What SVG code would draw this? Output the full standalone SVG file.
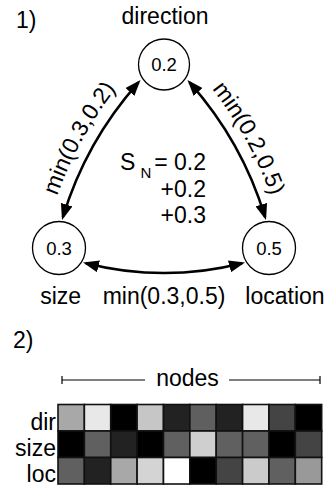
<svg xmlns="http://www.w3.org/2000/svg" width="331" height="487" viewBox="0 0 331 487">
<style>
text{font-family:"Liberation Sans",Arial,sans-serif;fill:#000}
.lbl{font-size:23px}
.val{font-size:18.5px;text-anchor:middle}
.node circle{fill:#fff;stroke:#000;stroke-width:1.3}
.arc{fill:none;stroke:#000;stroke-width:2.5;marker-start:url(#ah);marker-end:url(#ah)}
.cell{stroke:#111;stroke-width:1.6}
</style>
<defs>
<marker id="ah" viewBox="0 0 16 12" refX="13" refY="6" markerWidth="16" markerHeight="12" markerUnits="userSpaceOnUse" orient="auto-start-reverse">
<path d="M0,0 L16,6 L0,12 z" fill="#000"/>
</marker>
<path id="tpL" d="M50.6,216.6 Q74.2,135.6 130,72.2"/>
<path id="tpR" d="M197.9,72.2 Q253.8,135.6 277.4,216.6"/>
</defs>
<text class="lbl" x="16" y="28">1)</text>
<g id="connectors">
<path class="arc" d="M62.9,217.1 Q85.6,141.8 138.5,82.3"/>
<path class="arc" d="M189.5,82.3 Q242.4,141.8 265.1,217.1"/>
<path class="arc" d="M85.9,263.2 Q164,283 242.1,263.2"/>
<text class="lbl"><textPath href="#tpL" startOffset="50%" text-anchor="middle">min(0.3,0.2)</textPath></text>
<text class="lbl"><textPath href="#tpR" startOffset="50%" text-anchor="middle">min(0.2,0.5)</textPath></text>
<text class="lbl" x="164" y="304" text-anchor="middle">min(0.3,0.5)</text>
</g>
<g id="n-direction" class="node">
<circle cx="164" cy="64.5" r="25.5"/>
<text class="val" x="164" y="71">0.2</text>
<text class="lbl" x="165" y="24" text-anchor="middle">direction</text>
</g>
<g id="n-size" class="node">
<circle cx="59" cy="248" r="26.5"/>
<text class="val" x="59" y="254.5">0.3</text>
<text class="lbl" x="60.7" y="304" text-anchor="middle">size</text>
</g>
<g id="n-location" class="node">
<circle cx="269" cy="248" r="26.5"/>
<text class="val" x="269" y="254.5">0.5</text>
<text class="lbl" x="285" y="304" text-anchor="middle">location</text>
</g>
<g id="sum">
<text class="lbl" x="120" y="170">S</text>
<text x="140.5" y="178" font-size="15">N</text>
<text class="lbl" x="206" y="170" text-anchor="end">= 0.2</text>
<text class="lbl" x="206" y="196.5" text-anchor="end">+0.2</text>
<text class="lbl" x="206" y="223" text-anchor="end">+0.3</text>
</g>
<text class="lbl" x="13" y="348">2)</text>
<g id="scale" stroke="#000" stroke-width="1.2">
<line x1="62" y1="380" x2="145" y2="380"/>
<line x1="229" y1="380" x2="320" y2="380"/>
<line x1="62" y1="376" x2="62" y2="384"/>
<line x1="320" y1="376" x2="320" y2="384"/>
</g>
<text class="lbl" x="187.5" y="386" text-anchor="middle">nodes</text>
<text class="lbl" x="56" y="430" text-anchor="end">dir</text>
<text class="lbl" x="56" y="456" text-anchor="end">size</text>
<text class="lbl" x="56" y="482" text-anchor="end">loc</text>
<g id="grid">
<rect class="cell" x="58" y="404.5" width="26.37" height="26.5" fill="#a8a8a8"/>
<rect class="cell" x="84.37" y="404.5" width="26.37" height="26.5" fill="#e8e8e8"/>
<rect class="cell" x="110.74" y="404.5" width="26.37" height="26.5" fill="#000"/>
<rect class="cell" x="137.11" y="404.5" width="26.37" height="26.5" fill="#c6c6c6"/>
<rect class="cell" x="163.48" y="404.5" width="26.37" height="26.5" fill="#222"/>
<rect class="cell" x="189.85" y="404.5" width="26.37" height="26.5" fill="#5f5f5f"/>
<rect class="cell" x="216.22" y="404.5" width="26.37" height="26.5" fill="#222"/>
<rect class="cell" x="242.59" y="404.5" width="26.37" height="26.5" fill="#e8e8e8"/>
<rect class="cell" x="268.96" y="404.5" width="26.37" height="26.5" fill="#444"/>
<rect class="cell" x="295.33" y="404.5" width="26.37" height="26.5" fill="#000"/>
<rect class="cell" x="58" y="431" width="26.37" height="26.5" fill="#000"/>
<rect class="cell" x="84.37" y="431" width="26.37" height="26.5" fill="#606060"/>
<rect class="cell" x="110.74" y="431" width="26.37" height="26.5" fill="#222"/>
<rect class="cell" x="137.11" y="431" width="26.37" height="26.5" fill="#000"/>
<rect class="cell" x="163.48" y="431" width="26.37" height="26.5" fill="#606060"/>
<rect class="cell" x="189.85" y="431" width="26.37" height="26.5" fill="#cfcfcf"/>
<rect class="cell" x="216.22" y="431" width="26.37" height="26.5" fill="#606060"/>
<rect class="cell" x="242.59" y="431" width="26.37" height="26.5" fill="#606060"/>
<rect class="cell" x="268.96" y="431" width="26.37" height="26.5" fill="#000"/>
<rect class="cell" x="295.33" y="431" width="26.37" height="26.5" fill="#444"/>
<rect class="cell" x="58" y="457.5" width="26.37" height="26.5" fill="#606060"/>
<rect class="cell" x="84.37" y="457.5" width="26.37" height="26.5" fill="#222"/>
<rect class="cell" x="110.74" y="457.5" width="26.37" height="26.5" fill="#a8a8a8"/>
<rect class="cell" x="137.11" y="457.5" width="26.37" height="26.5" fill="#d4d4d4"/>
<rect class="cell" x="163.48" y="457.5" width="26.37" height="26.5" fill="#fff"/>
<rect class="cell" x="189.85" y="457.5" width="26.37" height="26.5" fill="#000"/>
<rect class="cell" x="216.22" y="457.5" width="26.37" height="26.5" fill="#444"/>
<rect class="cell" x="242.59" y="457.5" width="26.37" height="26.5" fill="#cbcbcb"/>
<rect class="cell" x="268.96" y="457.5" width="26.37" height="26.5" fill="#606060"/>
<rect class="cell" x="295.33" y="457.5" width="26.37" height="26.5" fill="#999"/>
</g>
</svg>
